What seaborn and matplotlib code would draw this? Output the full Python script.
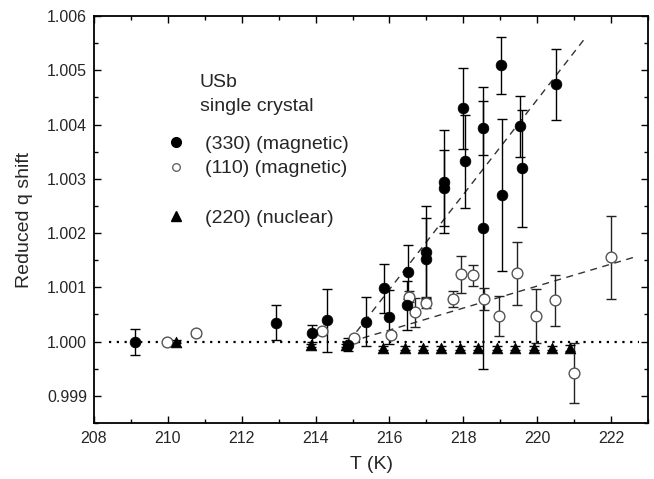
import numpy as np
import pandas as pd
import matplotlib
matplotlib.use("Agg")
import matplotlib.pyplot as plt
import seaborn as sns
from matplotlib.lines import Line2D
from matplotlib.ticker import MultipleLocator

sns.set_theme(style="ticks")
plt.rcParams['font.family'] = ['Liberation Sans', 'DejaVu Sans']

# ---- data ----
c330_T = [209.10, 212.92, 213.91, 214.30, 214.87, 215.36, 215.86, 216.00, 216.50, 216.48,
          216.99, 216.99, 217.48, 217.48, 217.99, 218.04, 218.52, 218.53, 219.02, 219.06,
          219.53, 219.58, 220.51]
c330_q = [1.00000, 1.00035, 1.00015, 1.00039, 0.99994, 1.000365, 1.00098, 1.00046, 1.00128, 1.00067,
          1.00165, 1.00153, 1.00295, 1.00283, 1.00430, 1.00332, 1.00393, 1.00209, 1.00509, 1.00270,
          1.00397, 1.00319, 1.00474]
c330_err = [0.00024, 0.00032, 0.00015, 0.00058, 0.00012, 0.00045, 0.00045, 0.00050, 0.00050, 0.00045,
            0.00085, 0.00075, 0.00095, 0.00070, 0.00075, 0.00085, 0.00050, 0.00260, 0.00053, 0.00140,
            0.00056, 0.00108, 0.00066]

c110_T = [209.99, 210.77, 214.16, 215.03, 216.04, 216.54, 216.70, 216.98, 217.72, 217.95,
          218.26, 218.56, 218.97, 219.45, 219.98, 220.48, 220.99, 221.99]
c110_q = [1.00000, 1.00015, 1.00019, 1.00007, 1.00013, 1.00083, 1.00054, 1.00072, 1.00078, 1.00124,
          1.00122, 1.00079, 1.00047, 1.00126, 1.00047, 1.00076, 0.99942, 1.00155]
c110_err = [0.00003, 0.00004, 0.00004, 0.00004, 0.00004, 0.00010, 0.00027, 0.00010, 0.00015, 0.00034,
            0.00020, 0.00020, 0.00037, 0.00058, 0.00050, 0.00047, 0.00056, 0.00077]

t220_T = [210.23, 213.87, 214.82, 215.82, 216.42, 216.90, 217.40, 217.90, 218.40, 218.90,
          219.41, 219.91, 220.39, 220.90]
t220_q = [1.00000, 0.99993, 0.99993, 0.99988, 0.99988, 0.99988, 0.99988, 0.99988, 0.99988, 0.99988,
          0.99988, 0.99988, 0.99988, 0.99988]
t220_err = [0.00003, 0.00003, 0.00003, 0.00003, 0.00003, 0.00003, 0.00003, 0.00003, 0.00003, 0.00003,
            0.00003, 0.00003, 0.00003, 0.00005]

fit330_T = [214.90, 221.34]
fit330_q = [1.00000, 1.00563]
fit110_T = [214.95, 222.60]
fit110_q = [1.00000, 1.00155]
ref_T = [208.40, 222.75]
ref_q = [1.0, 1.0]

labels = ["(330) (magnetic)", "(110) (magnetic)", "(220) (nuclear)"]

df330 = pd.DataFrame({"T": c330_T, "q": c330_q, "err": c330_err})
df110 = pd.DataFrame({"T": c110_T, "q": c110_q, "err": c110_err})
df220 = pd.DataFrame({"T": t220_T, "q": t220_q, "err": t220_err})

fig = plt.figure(figsize=(6.54, 4.79), dpi=100)
W, H = 654, 479
ax = fig.add_axes([94 / W, (H - 423) / H, (648 - 94) / W, (423 - 16) / H])

# reference and fit lines
sns.lineplot(x=ref_T, y=ref_q, ax=ax, color="black", lw=1.6, linestyle=(0, (1, 2.5)), zorder=1)
sns.lineplot(x=fit330_T, y=fit330_q, ax=ax, color="#333333", lw=1.0, linestyle=(0, (5, 4)), zorder=1)
sns.lineplot(x=fit110_T, y=fit110_q, ax=ax, color="#333333", lw=1.0, linestyle=(0, (5, 4)), zorder=1)

# error bars
for d, col in ((df330, "black"), (df110, "#222222"), (df220, "black")):
    ax.errorbar(d["T"], d["q"], yerr=d["err"], fmt="none", ecolor=col, elinewidth=1.0,
                capsize=3.5, capthick=1.0, zorder=2)

# markers
sns.scatterplot(data=df110, x="T", y="q", ax=ax, marker="o", s=60, facecolor="white",
                edgecolor="#555555", linewidth=1.0, zorder=3, legend=False)
sns.scatterplot(data=df330, x="T", y="q", ax=ax, marker="o", s=60, color="black",
                edgecolor="black", linewidth=0.5, zorder=4, legend=False)
sns.scatterplot(data=df220, x="T", y="q", ax=ax, marker="^", s=60, color="black",
                edgecolor="black", linewidth=0.5, zorder=4, legend=False)

ax.set_xlim(208, 223)
ax.set_ylim(0.9985, 1.006)
ax.xaxis.set_major_locator(MultipleLocator(2))
ax.xaxis.set_minor_locator(MultipleLocator(1))
ax.yaxis.set_major_locator(MultipleLocator(0.001))
ax.yaxis.set_minor_locator(MultipleLocator(0.0005))
ax.yaxis.set_major_formatter(matplotlib.ticker.FormatStrFormatter("%.3f"))
ax.tick_params(which="both", direction="in", top=True, right=True, color="black", width=1.0)
ax.tick_params(which="major", length=5, labelsize=11.5)
ax.tick_params(axis="x", which="major", pad=6)
ax.tick_params(axis="y", which="major", pad=5)
ax.tick_params(which="minor", length=3)
for sp in ax.spines.values():
    sp.set_visible(True)
    sp.set_color("black")
    sp.set_linewidth(1.3)

ax.set_xlabel("T (K)", fontsize=14, labelpad=7)
ax.set_ylabel("Reduced q shift", fontsize=14, labelpad=10)

# legend block
ax.text(0.191, 0.858, "USb\nsingle crystal", transform=ax.transAxes, fontsize=14,
        va="top", ha="left", linespacing=1.55)
handles = [Line2D([], [], marker="o", ls="none", color="black", markersize=7),
           Line2D([], [], marker="o", ls="none", markerfacecolor="white",
                  markeredgecolor="#666666", markersize=5.5),
           Line2D([], [], ls="none"),
           Line2D([], [], marker="^", ls="none", color="black", markersize=7)]
leg = ax.legend(handles, [labels[0], labels[1], "", labels[2]], loc="upper left",
                bbox_to_anchor=(0.13, 0.707), frameon=False, fontsize=14,
                handlelength=1.0, handletextpad=1.0, labelspacing=0.36, borderpad=0,
                borderaxespad=0)

fig.savefig("out.png", dpi=100)
